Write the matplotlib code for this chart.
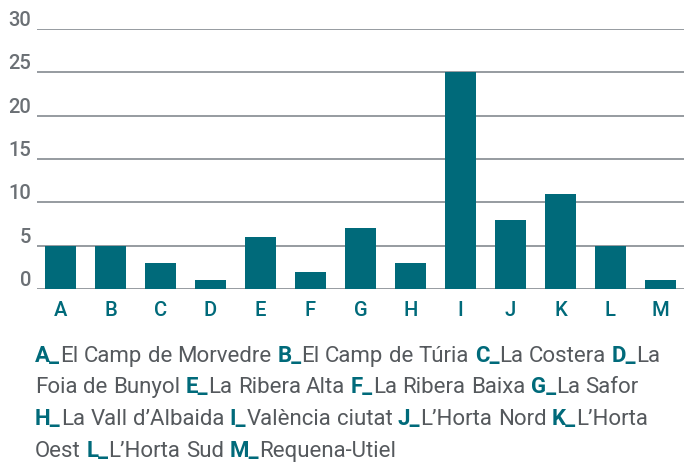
import matplotlib
matplotlib.use("Agg")
import matplotlib.pyplot as plt

# dades
categories = ["A", "B", "C", "D", "E", "F", "G", "H", "I", "J", "K", "L", "M"]
values = [5, 5, 3, 1, 6, 2, 7, 3, 25, 8, 11, 5, 1]
regions = ["El Camp de Morvedre", "El Camp de Túria", "La Costera", "La Foia de Bunyol",
           "La Ribera Alta", "La Ribera Baixa", "La Safor", "La Vall d’Albaida",
           "València ciutat", "L’Horta Nord", "L’Horta Oest", "L’Horta Sud",
           "Requena-Utiel"]
yticks = [0, 5, 10, 15, 20, 25, 30]
line_breaks = [11, 22, 30]  # nombre de paraules acumulades per línia

teal = "#006a7a"
grey_txt = "#6b7075"
grey_cap = "#55595d"
grey_line = "#8e9398"
plt.rcParams["font.family"] = ["Roboto", "DejaVu Sans"]

W, H = 684, 464
fig = plt.figure(figsize=(W / 100, H / 100), dpi=100)
ax = fig.add_axes([37 / W, 174 / H, 1 - 37 / W, 260 / H])

x = range(len(categories))
ax.bar(x, values, width=0.62, color=teal, zorder=3)
ax.set_xlim(-0.47, 12.47)
ax.set_ylim(0, 30)
ax.set_yticks(yticks)
ax.set_yticklabels([str(v) for v in yticks])
for v in yticks:
    ax.axhline(v, color=grey_line, lw=1.3, zorder=1)
for s in ax.spines.values():
    s.set_visible(False)
ax.tick_params(axis="y", length=0, pad=4, labelsize=14.5, labelcolor=grey_txt)
for lbl in ax.get_yticklabels():
    lbl.set_verticalalignment("bottom")
    lbl.set_fontweight("medium")
ax.set_xticks(list(x))
ax.set_xticklabels(categories)
ax.tick_params(axis="x", length=0, pad=8, labelsize=14.5, labelcolor=teal)
for lbl in ax.get_xticklabels():
    lbl.set_fontweight("medium")

# llegenda de comarques amb el text en dos colors
words = []
for cat, name in zip(categories, regions):
    parts = name.split(" ")
    words.append([(cat + "_", teal, "bold"), (parts[0], grey_cap, "normal")])
    for p in parts[1:]:
        words.append([(p, grey_cap, "normal")])

renderer = fig.canvas.get_renderer()
fs = 16
probe = fig.text(0, 0, "a a", fontsize=fs)
w1 = probe.get_window_extent(renderer).width
probe.set_text("aa")
space = w1 - probe.get_window_extent(renderer).width
probe.remove()

baselines = [362, 393.5, 425, 457]
lines = []
start = 0
for b in line_breaks + [len(words)]:
    lines.append(words[start:b])
    start = b
for ln, yb in zip(lines, baselines):
    xp = 35
    for word in ln:
        for txt, col, wt in word:
            t = fig.text(xp / W, 1 - yb / H, txt, fontsize=fs, color=col,
                         fontweight=wt, va="baseline", ha="left")
            xp += t.get_window_extent(renderer).width
        xp += space

fig.savefig("out.png", dpi=100)
